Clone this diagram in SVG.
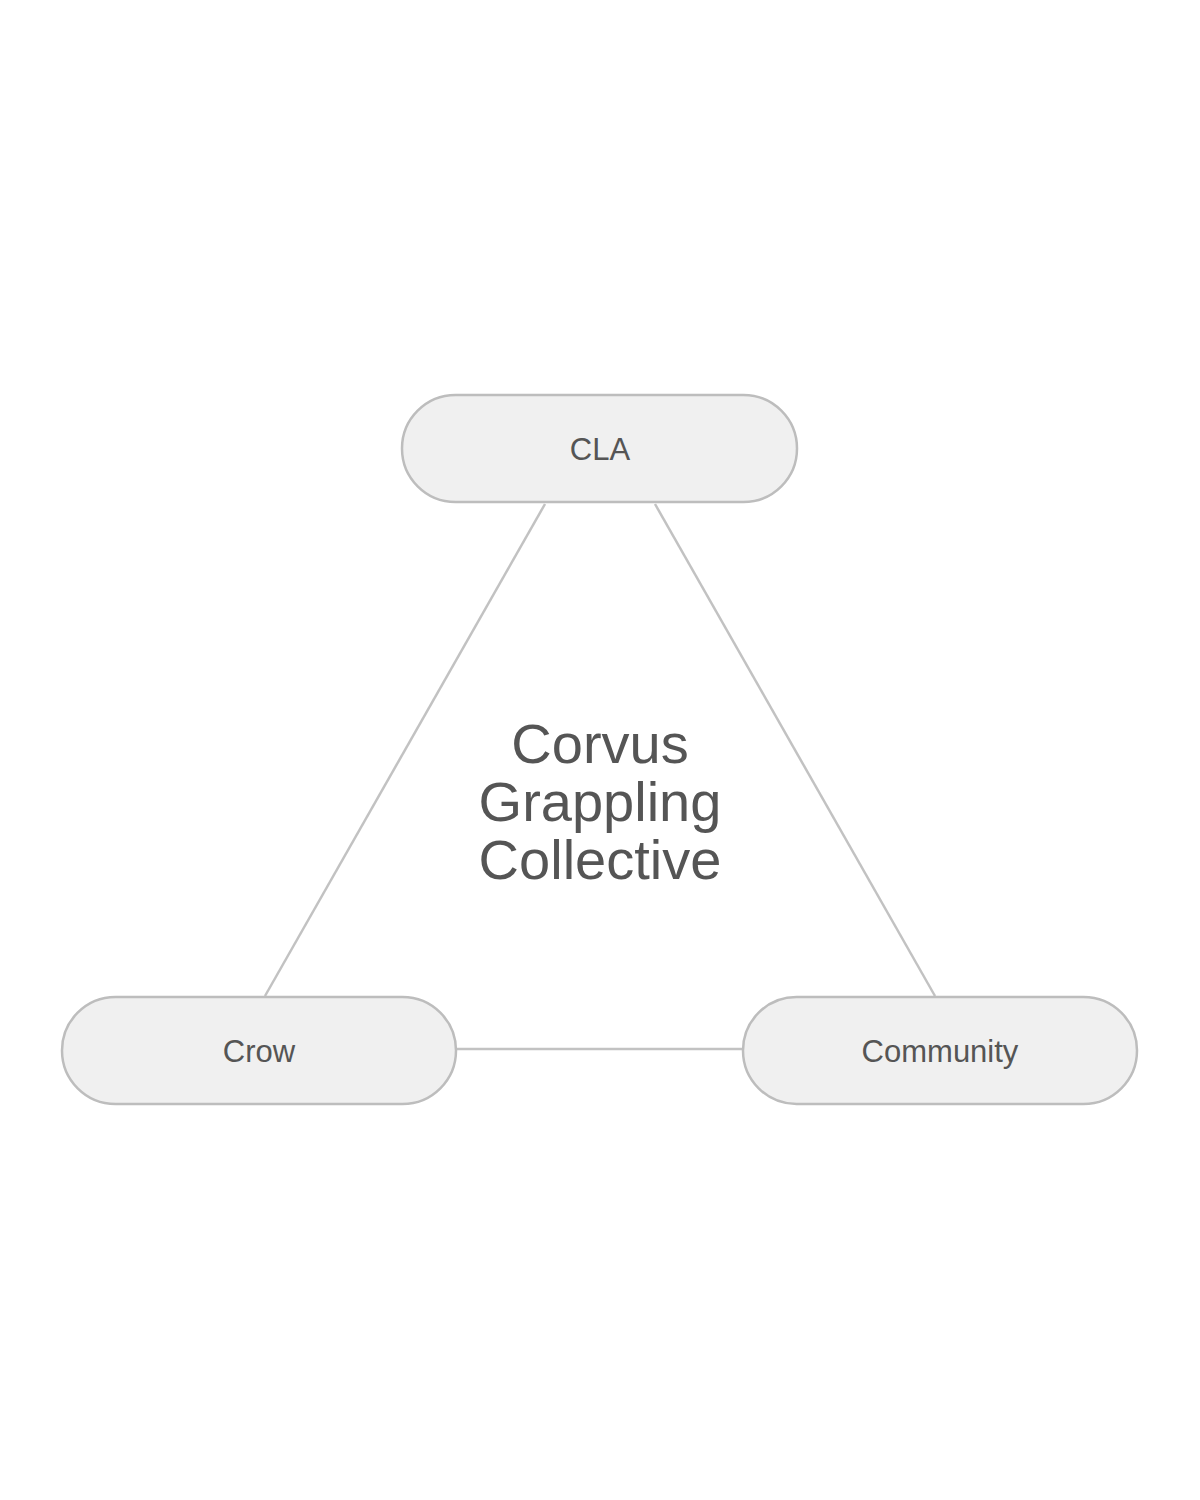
<svg xmlns="http://www.w3.org/2000/svg" width="1200" height="1500" viewBox="0 0 1200 1500">
<style>
.node rect{fill:#f0f0f0;stroke:#bdbdbd;stroke-width:2.5}
.node text{font-family:"Liberation Sans",Arial,sans-serif;font-size:31px;fill:#555;text-anchor:middle}
.edge{stroke:#c2c2c2;stroke-width:2.5;fill:none}
.title{font-family:"Liberation Sans",Arial,sans-serif;font-size:56px;fill:#555;text-anchor:middle}
</style>
<rect width="1200" height="1500" fill="#fff"/>
<g id="connectors">
<line class="edge" x1="545" y1="504" x2="265" y2="996"/>
<line class="edge" x1="655" y1="504" x2="935" y2="996"/>
<line class="edge" x1="457" y1="1049" x2="743" y2="1049"/>
</g>
<g id="node-cla" class="node">
<rect x="402" y="395" width="395" height="107" rx="53.5"/>
<text x="600" y="460">CLA</text>
</g>
<g id="node-crow" class="node">
<rect x="62" y="997" width="394" height="107" rx="53.5"/>
<text x="259" y="1062">Crow</text>
</g>
<g id="node-community" class="node">
<rect x="743" y="997" width="394" height="107" rx="53.5"/>
<text x="940" y="1062">Community</text>
</g>
<g id="center-title">
<text class="title" x="600" y="763">Corvus</text>
<text class="title" x="600" y="821">Grappling</text>
<text class="title" x="600" y="879">Collective</text>
</g>
</svg>
